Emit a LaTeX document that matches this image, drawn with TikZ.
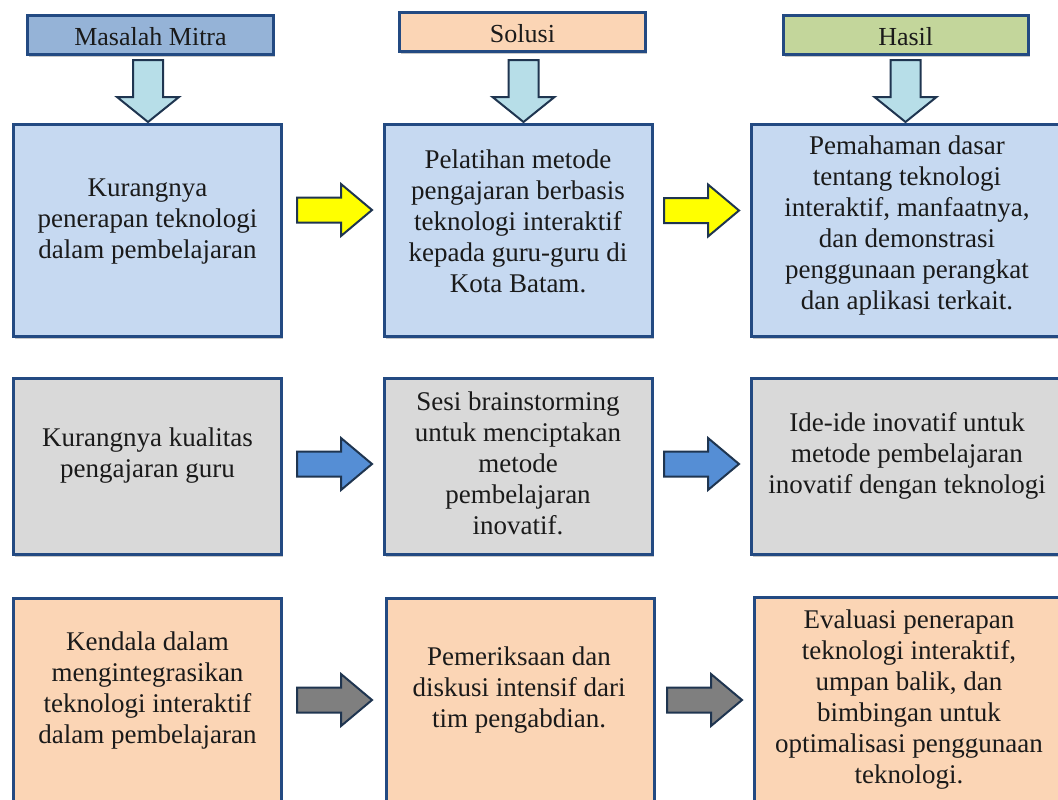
\documentclass[tikz,border=0pt]{standalone}
\usepackage{fontspec}
\setmainfont{Liberation Serif}
\usetikzlibrary{fit,shadows}
\definecolor{bord}{HTML}{234A82}
\definecolor{arrbord}{HTML}{1F3550}
\definecolor{hdrA}{HTML}{95B3D7}
\definecolor{hdrB}{HTML}{FBD5B5}
\definecolor{hdrC}{HTML}{C3D69B}
\definecolor{rowA}{HTML}{C6D9F1}
\definecolor{rowB}{HTML}{D9D9D9}
\definecolor{rowC}{HTML}{FBD5B5}
\definecolor{downfill}{HTML}{B7DEE8}
\definecolor{ayellow}{HTML}{FFFF00}
\definecolor{ablue}{HTML}{558ED5}
\definecolor{agray}{HTML}{7F7F7F}
\definecolor{txt}{HTML}{1A1A1A}
\tikzset{
  boxstyle/.style={draw=bord, line width=2.25pt, inner sep=0pt, rectangle,
    drop shadow={shadow xshift=1.2pt, shadow yshift=-1.5pt, opacity=0.22, fill=black}},
  txtstyle/.style={align=center, inner sep=0pt, text=txt,
    font=\fontsize{20.25}{23.25}\selectfont},
  hdrtxt/.style={align=center, inner sep=0pt, text=txt,
    font=\fontsize{19.5}{23.25}\selectfont},
  arrstyle/.style={draw=arrbord, line width=1.5pt, line join=miter},
}
\newcommand\myDownArr[1]{% #1 center x
  \draw[arrstyle, fill=downfill]
    (#1-15,60) -- (#1+15,60) -- (#1+15,97) -- (#1+31,97) -- (#1,122)
    -- (#1-31,97) -- (#1-15,97) -- cycle;}
\newcommand\myRightArr[3]{% #1 x0, #2 yc, #3 fill
  \draw[arrstyle, fill=#3]
    (#1,#2-12.5) -- (#1+44,#2-12.5) -- (#1+44,#2-26) -- (#1+75,#2)
    -- (#1+44,#2+26) -- (#1+44,#2+12.5) -- (#1,#2+12.5) -- cycle;}
\begin{document}
\begin{tikzpicture}[x=0.75pt,y=-0.75pt]
\useasboundingbox (0,0) rectangle (1058,800);
\clip (0,0) rectangle (1058,800);
\fill[white] (0,0) rectangle (1058,800);

% headers
\node[boxstyle, fill=hdrA, fit={(27.5,15.5) (273.5,54.5)}] (h1) {};
\node[boxstyle, fill=hdrB, fit={(399.5,12.5) (645.5,51.5)}] (h2) {};
\node[boxstyle, fill=hdrC, fit={(783.5,15.5) (1028,54.5)}] (h3) {};
\node[hdrtxt] (h1t) at ([yshift=-1pt]h1.center) {Masalah Mitra};
\node[hdrtxt] (h2t) at ([yshift=-1pt]h2.center) {Solusi};
\node[hdrtxt] (h3t) at ([yshift=-1pt]h3.center) {Hasil};

% down arrows
\myDownArr{148}
\myDownArr{523.5}
\myDownArr{905.5}

% row 1
\node[boxstyle, fill=rowA, fit={(13.5,124.5) (281.5,336.5)}] (b11) {};
\node[boxstyle, fill=rowA, fit={(384.5,124.5) (652.5,336.5)}] (b12) {};
\node[boxstyle, fill=rowA, fit={(751.5,124.5) (1064,336.5)}] (b13) {};
% row 2
\node[boxstyle, fill=rowB, fit={(13.5,378.5) (281.5,554.5)}] (b21) {};
\node[boxstyle, fill=rowB, fit={(384.5,378.5) (652.5,554.5)}] (b22) {};
\node[boxstyle, fill=rowB, fit={(751.5,378.5) (1064,554.5)}] (b23) {};
% row 3
\node[boxstyle, fill=rowC, fit={(13.5,598.5) (281.5,815)}] (b31) {};
\node[boxstyle, fill=rowC, fit={(386,598.5) (654,815)}] (b32) {};
\node[boxstyle, fill=rowC, fit={(754.5,597.5) (1064,815)}] (b33) {};

% texts
\node[txtstyle] (t11) at (147.5,221.5) {Kurangnya\\penerapan teknologi\\dalam pembelajaran};
\node[txtstyle] (t12) at (518,221) {Pelatihan metode\\pengajaran berbasis\\teknologi interaktif\\kepada guru-guru di\\Kota Batam.};
\node[txtstyle] (t13) at (907,226) {Pemahaman dasar\\tentang teknologi\\interaktif, manfaatnya,\\dan demonstrasi\\penggunaan perangkat\\dan aplikasi terkait.};
\node[txtstyle] (t21) at (147.5,456) {Kurangnya kualitas\\pengajaran guru};
\node[txtstyle] (t22) at (518,463) {Sesi brainstorming\\untuk menciptakan\\metode\\pembelajaran\\inovatif.};
\node[txtstyle] (t23) at (907,456) {Ide-ide inovatif untuk\\metode pembelajaran\\inovatif dengan teknologi};
\node[txtstyle] (t31) at (147.5,690) {Kendala dalam\\mengintegrasikan\\teknologi interaktif\\dalam pembelajaran};
\node[txtstyle] (t32) at (519,690) {Pemeriksaan dan\\diskusi intensif dari\\tim pengabdian.};
\node[txtstyle] (t33) at (909,699.5) {Evaluasi penerapan\\teknologi interaktif,\\umpan balik, dan\\bimbingan untuk\\optimalisasi penggunaan\\teknologi.};

% right arrows
\myRightArr{297}{210}{ayellow}
\myRightArr{664}{210.5}{ayellow}
\myRightArr{297}{464}{ablue}
\myRightArr{664}{464}{ablue}
\myRightArr{297}{700}{agray}
\myRightArr{667}{700}{agray}
\end{tikzpicture}
\end{document}
